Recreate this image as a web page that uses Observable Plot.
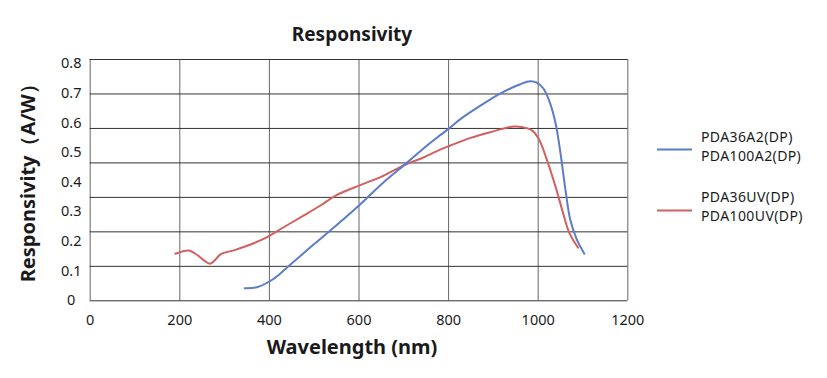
<!DOCTYPE html>
<html>
<head>
<meta charset="utf-8">
<script src="https://cdn.jsdelivr.net/npm/d3@7"></script>
<script src="https://cdn.jsdelivr.net/npm/@observablehq/plot@0.6"></script>
<style>
  html, body { margin: 0; padding: 0; background: #fff; }
  #wrap { position: relative; width: 827px; height: 378px; font-family: "Noto Sans", sans-serif; }
  #legend { position: absolute; left: 0; top: 0; }
</style>
</head>
<body>
<div id="wrap"></div>
<script>
// ---- data ----
const titleText = "Responsivity";
const xLabel = "Wavelength (nm)";
const yLabel = "Responsivity（A/W）";

const xTicks = [0, 200, 400, 600, 800, 1000, 1200];
const yTicks = [0, 0.1, 0.2, 0.3, 0.4, 0.5, 0.6, 0.7, 0.8];
const yGrid = [0, 0.8/7, 1.6/7, 2.4/7, 3.2/7, 4.0/7, 4.8/7, 5.6/7, 0.8];

const seriesNames = ["PDA36A2(DP)\nPDA100A2(DP)", "PDA36UV(DP)\nPDA100UV(DP)"];
const seriesColors = ["#5b7dc9", "#d2605f"];

// A2 (blue)
const a2Wl = [345, 372, 400, 420, 440, 492, 536, 600, 655, 704, 752, 782, 804, 827, 871, 916, 960, 982, 997, 1012, 1027, 1039, 1050, 1061, 1072, 1087, 1103];
const a2R  = [0.042, 0.045, 0.064, 0.085, 0.111, 0.178, 0.233, 0.316, 0.393, 0.454, 0.515, 0.550, 0.575, 0.603, 0.647, 0.688, 0.718, 0.728, 0.723, 0.703, 0.653, 0.587, 0.487, 0.366, 0.266, 0.200, 0.156];

// UV (red)
const uvWl = [190, 220, 235, 254, 267, 276, 291, 324, 362, 395, 425, 477, 514, 548, 600, 648, 704, 745, 782, 804, 849, 893, 946, 964, 986, 1001, 1020, 1039, 1054, 1069, 1089];
const uvR  = [0.156, 0.167, 0.156, 0.134, 0.123, 0.131, 0.154, 0.169, 0.189, 0.211, 0.238, 0.283, 0.316, 0.349, 0.382, 0.410, 0.452, 0.476, 0.502, 0.515, 0.540, 0.559, 0.578, 0.576, 0.565, 0.537, 0.465, 0.377, 0.299, 0.227, 0.176];

const a2 = a2Wl.map((w, i) => ({wl: w, r: a2R[i]}));
const uv = uvWl.map((w, i) => ({wl: w, r: uvR[i]}));

const gridColor = "#333";

const chart = Plot.plot({
  width: 827,
  height: 378,
  marginLeft: 89.7,
  marginRight: 199.7,
  marginTop: 59,
  marginBottom: 77.7,
  x: {domain: [0, 1200], axis: null},
  y: {domain: [0, 0.8], axis: null},
  style: {fontFamily: "'Noto Sans', sans-serif", color: "#1a1a1a", background: "#fff"},
  marks: [
    Plot.ruleY(yGrid, {stroke: gridColor, strokeWidth: 1}),
    Plot.ruleX(xTicks, {stroke: gridColor, strokeWidth: 1, strokeOpacity: 0.75}),
    Plot.text(yTicks, {x: 0, y: d => d * 0.981 + 0.001, text: d => d === 0 ? "0" : d.toFixed(1), dx: -19, textAnchor: "middle", fontSize: 14.5, fill: "#1a1a1a"}),
    Plot.text(xTicks, {x: d => d, y: 0, text: d => String(d), dy: 20, textAnchor: "middle", fontSize: 14.5, fill: "#1a1a1a"}),
    Plot.line(uv, {x: "wl", y: "r", stroke: seriesColors[1], strokeWidth: 2, curve: "catmull-rom"}),
    Plot.line(a2, {x: "wl", y: "r", stroke: seriesColors[0], strokeWidth: 2, curve: "catmull-rom"}),
    Plot.text([titleText], {frameAnchor: "top", lineAnchor: "middle", dy: -25, dx: -7, fontSize: 19, fontWeight: "bold", fill: "#1a1a1a"}),
    Plot.text([xLabel], {frameAnchor: "bottom", lineAnchor: "middle", dy: 47, dx: -7, fontSize: 20, fontWeight: "bold", fill: "#1a1a1a"}),
    Plot.text([yLabel], {frameAnchor: "left", textAnchor: "middle", lineAnchor: "middle", dx: -62, dy: -2, rotate: -90, fontSize: 20, fontWeight: "bold", fill: "#1a1a1a"})
  ]
});

const wrap = document.getElementById("wrap");
wrap.appendChild(chart);

// legend overlay
const leg = d3.select(wrap).append("svg")
  .attr("id", "legend").attr("width", 827).attr("height", 378)
  .style("font-family", "'Noto Sans', sans-serif");

const legendItems = [
  {line: 149.5, texts: [137, 156], color: seriesColors[0], name: seriesNames[0]},
  {line: 210.5, texts: [197, 216], color: seriesColors[1], name: seriesNames[1]}
];
legendItems.forEach(it => {
  leg.append("line").attr("x1", 657).attr("x2", 692).attr("y1", it.line).attr("y2", it.line)
    .attr("stroke", it.color).attr("stroke-width", 2);
  it.name.split("\n").forEach((t, i) => {
    leg.append("text").attr("x", 701).attr("y", it.texts[i]).attr("dy", "0.36em")
      .attr("font-size", 14).attr("letter-spacing", 0.4).attr("fill", "#1a1a1a").text(t);
  });
});
</script>
</body>
</html>
